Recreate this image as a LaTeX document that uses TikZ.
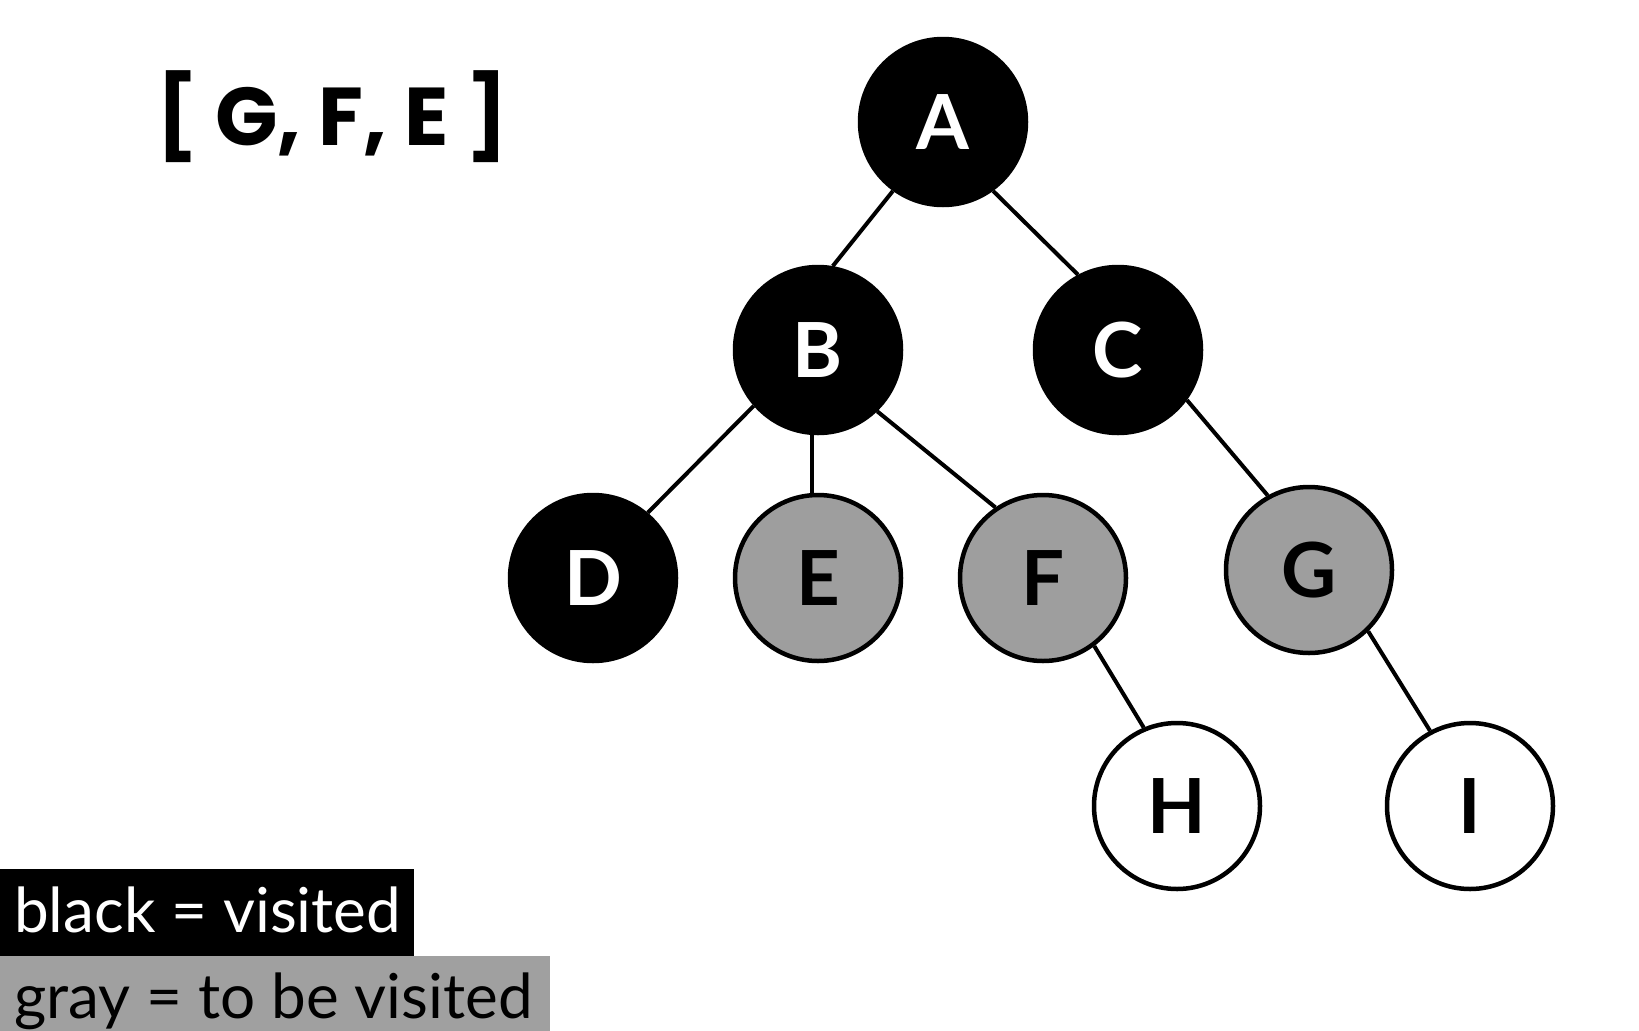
\documentclass[tikz,border=0pt]{standalone}
\usepackage{fontspec}
\setmainfont{Lato}
\newfontfamily\titlefont{Poppins}
\newfontfamily\nodefont{Lato}
\definecolor{nodegray}{HTML}{9E9E9E}
\definecolor{leggray}{HTML}{A0A0A0}
\begin{document}
\begin{tikzpicture}[x=1pt,y=-1pt,
  vnode/.style={circle,minimum size=166pt,inner sep=0pt,font=\nodefont\bfseries\fontsize{76}{76}\selectfont},
  visited/.style={vnode,fill=black,draw=black,line width=4.5pt,text=white},
  tovisit/.style={vnode,fill=nodegray,draw=black,line width=4.5pt,text=black},
  unseen/.style={vnode,fill=white,draw=black,line width=4.5pt,text=black},
  edge/.style={line width=4pt,black},
  legtext/.style={anchor=base west,inner sep=0pt,font=\fontsize{62}{62}\selectfont}]
\useasboundingbox (0,0) rectangle (1639,1031);
\fill[white] (0,0) rectangle (1639,1031);
\coordinate (A) at (943,122);
\coordinate (B) at (818,350);
\coordinate (C) at (1118,350);
\coordinate (D) at (593,578);
\coordinate (E) at (818,578);
\coordinate (F) at (1043,578);
\coordinate (G) at (1309,570);
\coordinate (H) at (1177,806);
\coordinate (I) at (1470,806);
\node[visited] (nA) at (A) {A};
\node[visited] (nB) at (B) {B};
\node[visited] (nC) at (C) {C};
\node[visited] (nD) at (D) {D};
\node[tovisit] (nE) at (E) {E};
\node[tovisit] (nF) at (F) {F};
\node[tovisit] (nG) at (G) {G};
\node[unseen] (nH) at (H) {H};
\node[unseen] (nI) at (I) {I};
\draw[edge] (nA.234) -- (nB.80);
\draw[edge] (nA.306) -- (nC.118);
\draw[edge] (nB.221) -- (nD.50);
\draw[edge] (nB.266) -- (nE.94);
\draw[edge] (nB.314) -- (nF.124);
\draw[edge] (nC.324) -- (nG.119);
\draw[edge] (nF.307) -- (nH.113);
\draw[edge] (nG.314) -- (nI.118);
% title
\node[font=\titlefont\bfseries\fontsize{82}{82}\selectfont,inner sep=0pt] (title) at (332,117) {[ G, F, E ]};
% legend
\fill[black] (0,869) rectangle (414,956);
\fill[leggray] (0,956) rectangle (550,1031);
\node[legtext,text=white] (leg1) at (14,932) {black = visited};
\node[legtext,text=black] (leg2) at (14,1018) {gray = to be visited};
\end{tikzpicture}
\end{document}
